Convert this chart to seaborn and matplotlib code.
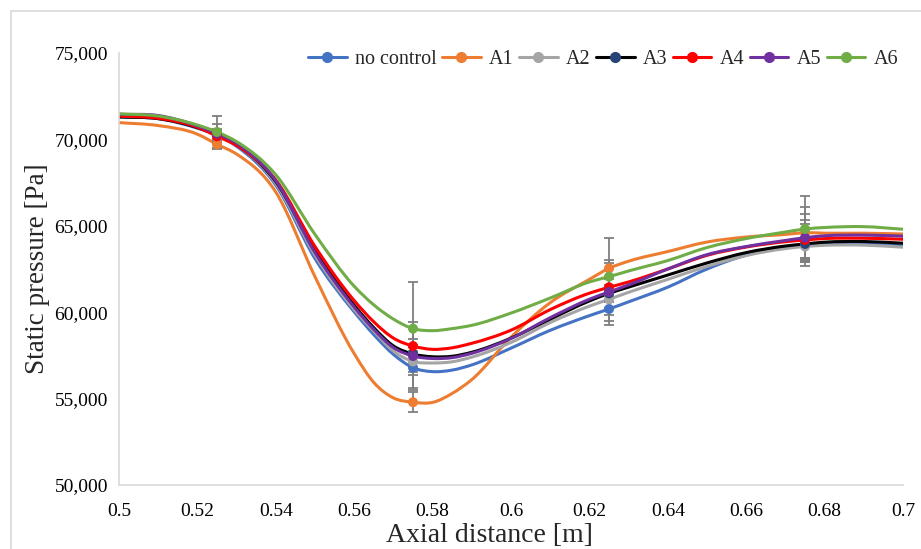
import numpy as np
import pandas as pd
import matplotlib
matplotlib.use("Agg")
import matplotlib.pyplot as plt
from matplotlib.path import Path
from matplotlib.patches import PathPatch
from matplotlib.lines import Line2D
from matplotlib.ticker import FuncFormatter, MultipleLocator
import seaborn as sns

# Axial stations [m] along the duct
x_axial = [0.50, 0.51, 0.52, 0.525, 0.53, 0.54, 0.55, 0.56, 0.565, 0.57, 0.575,
           0.58, 0.585, 0.59, 0.60, 0.61, 0.62, 0.625, 0.63, 0.64, 0.65, 0.66,
           0.67, 0.675, 0.68, 0.69, 0.70]
# Stations carrying a marker and an error bar
x_marked = [0.525, 0.575, 0.625, 0.675]

cases = ["no control", "A1", "A2", "A3", "A4", "A5", "A6"]

# Static pressure [Pa] at each axial station
p_no_control = [71300, 71200, 70650, 70250, 69600, 67350, 63100, 60020, 58700, 57560, 56790,
                56560, 56650, 56950, 57920, 58950, 59800, 60185, 60600, 61450, 62500, 63300,
                63750, 63890, 63960, 63985, 63840]
p_a1 = [70970, 70800, 70300, 69716, 69150, 66950, 62050, 57600, 55930, 55040, 54790,
        54780, 55300, 56100, 58550, 60550, 61900, 62540, 62950, 63510, 64060, 64350,
        64500, 64600, 64570, 64570, 64525]
p_a2 = [71350, 71250, 70720, 70300, 69700, 67450, 63300, 60150, 58900, 57750, 57150,
        57060, 57130, 57400, 58250, 59400, 60350, 60745, 61150, 61900, 62650, 63280,
        63680, 63800, 63870, 63880, 63760]
p_a3 = [71300, 71200, 70680, 70250, 69700, 67550, 63550, 60400, 59100, 58050, 57580,
        57420, 57450, 57680, 58500, 59600, 60650, 61090, 61450, 62150, 62850, 63450,
        63830, 63950, 64050, 64090, 63990]
p_a4 = [71350, 71220, 70700, 70180, 69650, 67650, 63800, 60670, 59440, 58500, 58040,
        57850, 57940, 58200, 58960, 60150, 61100, 61440, 61750, 62500, 63290, 63770,
        64080, 64180, 64260, 64280, 64220]
p_a5 = [71450, 71380, 70780, 70330, 69780, 67600, 63450, 60300, 59000, 57950, 57465,
        57320, 57370, 57620, 58480, 59680, 60750, 61170, 61580, 62500, 63330, 63800,
        64150, 64310, 64420, 64460, 64400]
p_a6 = [71480, 71350, 70830, 70430, 69870, 67950, 64500, 61500, 60420, 59600, 59050,
        58930, 59050, 59240, 59950, 60820, 61750, 62055, 62385, 62990, 63740, 64260,
        64640, 64815, 64900, 64950, 64800]

# Symmetric uncertainty [Pa] at the marked stations
err_no_control = [300, 1170, 925, 1200]
err_a1 = [300, 590, 480, 1470]
err_a2 = [300, 600, 500, 800]
err_a3 = [300, 500, 500, 800]
err_a4 = [300, 400, 500, 1180]
err_a5 = [560, 1980, 1680, 1400]
err_a6 = [930, 2680, 2220, 1900]

x_ticks = [0.50, 0.52, 0.54, 0.56, 0.58, 0.60, 0.62, 0.64, 0.66, 0.68, 0.70]

pressures = [p_no_control, p_a1, p_a2, p_a3, p_a4, p_a5, p_a6]
errors = [err_no_control, err_a1, err_a2, err_a3, err_a4, err_a5, err_a6]
line_colors = ["#4472C4", "#ED7D31", "#A5A5A5", "#000000", "#FF0000", "#7030A0", "#70AD47"]
marker_colors = ["#4472C4", "#ED7D31", "#A5A5A5", "#264478", "#FF0000", "#7030A0", "#70AD47"]

sns.set_theme(style="white")
plt.rcParams["font.family"] = ["Liberation Serif", "DejaVu Serif"]
plt.rcParams["font.size"] = 14


def smooth_path(xs, ys):
    """Cubic Bezier path through the points with finite-difference tangents."""
    xs = np.asarray(xs, float)
    ys = np.asarray(ys, float)
    h = np.diff(xs)
    d = np.diff(ys) / h
    m = np.empty_like(ys)
    m[0], m[-1] = d[0], d[-1]
    m[1:-1] = (d[:-1] * h[1:] + d[1:] * h[:-1]) / (h[:-1] + h[1:])
    verts = [(xs[0], ys[0])]
    codes = [Path.MOVETO]
    for i in range(len(xs) - 1):
        verts += [(xs[i] + h[i] / 3, ys[i] + m[i] * h[i] / 3),
                  (xs[i + 1] - h[i] / 3, ys[i + 1] - m[i + 1] * h[i] / 3),
                  (xs[i + 1], ys[i + 1])]
        codes += [Path.CURVE4] * 3
    return Path(verts, codes)


fig = plt.figure(figsize=(9.21, 5.49), dpi=100)
ax = fig.add_axes([0.1292, 0.1166, 0.8513, 0.7869])

# smoothed pressure profiles
for k, name in enumerate(cases):
    patch = PathPatch(smooth_path(x_axial, pressures[k]), facecolor="none",
                      edgecolor=line_colors[k], lw=2.2, joinstyle="round",
                      capstyle="butt", zorder=2 + 0.01 * k)
    ax.add_patch(patch)

# marked stations: error bars and markers
marks = []
for k, name in enumerate(cases):
    vals = [pressures[k][x_axial.index(xv)] for xv in x_marked]
    ax.errorbar(x_marked, vals, yerr=errors[k], fmt="none", ecolor="#7f7f7f",
                elinewidth=1.3, capsize=3.5, capthick=1.3, zorder=3)
    for xv, v in zip(x_marked, vals):
        marks.append({"x": xv, "p": v, "case": name})
marks = pd.DataFrame(marks)
sns.scatterplot(data=marks, x="x", y="p", hue="case", palette=dict(zip(cases, marker_colors)),
                s=52, linewidth=0, legend=False, ax=ax, zorder=4)

ax.set_xlim(0.5, 0.7)
ax.set_ylim(50000, 75000)
ax.set_xticks(x_ticks)
ax.xaxis.set_major_formatter(FuncFormatter(lambda v, _: f"{round(v, 2):g}"))
ax.yaxis.set_major_locator(MultipleLocator(5000))
ax.yaxis.set_major_formatter(FuncFormatter(lambda v, _: f"{v:,.0f}"))
ax.tick_params(axis="both", length=0, labelsize=14, colors="#000000")
ax.tick_params(axis="x", pad=13)
ax.tick_params(axis="y", pad=8)
ax.grid(False)
for side in ("top", "right"):
    ax.spines[side].set_visible(False)
for side in ("left", "bottom"):
    ax.spines[side].set_color("#d9d9d9")
    ax.spines[side].set_linewidth(1.2)

ax.set_xlabel("Axial distance [m]", fontsize=20)
ax.xaxis.set_label_coords(0.472, -0.087)
ax.set_ylabel("Static pressure [Pa]", fontsize=19.5, labelpad=3)

handles = [Line2D([], [], color=line_colors[k], lw=2.2, marker="o", markersize=7,
                  markerfacecolor=marker_colors[k], markeredgecolor=marker_colors[k])
           for k in range(len(cases))]
fig.legend(handles, cases, loc="upper right", bbox_to_anchor=(0.975, 0.909), ncol=7,
           frameon=False, fontsize=14.5, handlelength=1.9, handletextpad=0.4,
           columnspacing=0.3, borderpad=0, borderaxespad=0)

# chart area outline
fig.add_artist(Line2D([0.0119, 0.0119], [0.0, 0.98], transform=fig.transFigure,
                      color="#d9d9d9", lw=1.2))
fig.add_artist(Line2D([0.0119, 1.0], [0.98, 0.98], transform=fig.transFigure,
                      color="#d9d9d9", lw=1.2))

fig.savefig("out.png", dpi=100, facecolor="white")
